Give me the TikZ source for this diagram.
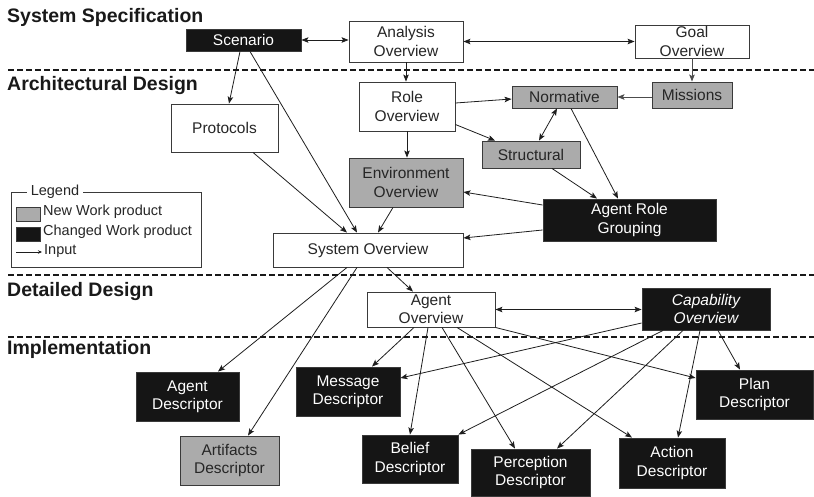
\documentclass[tikz,border=0pt]{standalone}
\usepackage{fontspec}
\setmainfont{Liberation Sans}
\usetikzlibrary{arrows.meta,calc}
\definecolor{newwp}{HTML}{ABABAB}
\definecolor{chgwp}{HTML}{151515}
\definecolor{edgec}{HTML}{1E1E1E}
\definecolor{framec}{HTML}{3A3A3A}

\begin{document}
\begin{tikzpicture}[x=1pt,y=-1pt,
  sz/.style 2 args={minimum width=#1, minimum height=#2},
  wp/.style={draw=framec, line width=0.9pt, inner sep=0pt, align=center,
    font=\fontsize{15.5}{18.3}\selectfont},
  plainwp/.style={wp, fill=white, text=black!85},
  newbox/.style={wp, fill=newwp, text=black!85},
  chgbox/.style={wp, fill=chgwp, text=white},
  tip/.tip={Stealth[length=7pt,width=5.5pt,inset=1.5pt]},
  flow/.style={draw=edgec, line width=0.8pt, -tip},
  both/.style={draw=edgec, line width=0.8pt, tip-tip},
  phase/.style={font=\fontsize{19.5}{22}\bfseries\selectfont, anchor=base west,
    inner sep=0pt, text=black!90},
  sepline/.style={line width=1.6pt, dash pattern=on 6pt off 3pt, draw=black!90},
  legtext/.style={font=\fontsize{14.5}{16}\selectfont, anchor=west, inner sep=0pt, text=black!85}
]
\useasboundingbox (0,0) rectangle (814,496);

% phase headings and separators
\node[phase] (hSpec) at (7,22) {System Specification};
\node[phase] (hArch) at (7,90) {Architectural Design};
\node[phase] (hDet)  at (7,296) {Detailed Design};
\node[phase] (hImpl) at (7,354) {Implementation};
\draw[sepline] (8,70) -- (814,70);
\draw[sepline] (8,275) -- (814,275);
\draw[sepline] (8,337) -- (814,337);

% system specification
\node[chgbox, sz={115pt}{22pt}]   (scen) at (243.5,40)  {Scenario};
\node[plainwp, sz={114pt}{41pt}]  (ana)  at (406,41.5)  {Analysis\\Overview};
\node[plainwp, sz={114pt}{33pt}]  (goal) at (692,41.5)  {Goal\\Overview};

% architectural design
\node[plainwp, sz={96pt}{49pt}]   (role)   at (407,106.5) {Role\\Overview};
\node[newbox, sz={105pt}{22pt}]   (norm)   at (564.5,97)  {Normative};
\node[newbox, sz={80pt}{26pt}]    (miss)   at (692,95)    {Missions};
\node[plainwp, sz={107pt}{48pt}]  (prot)   at (224.5,128) {Protocols};
\node[newbox, sz={98pt}{27pt}]    (struct) at (531,154.5) {Structural};
\node[newbox, sz={114pt}{49pt}]   (env)    at (406,182.5) {Environment\\Overview};
\node[chgbox, sz={173pt}{42pt}]   (arg)    at (629.5,220) {Agent Role\\Grouping};
\node[plainwp, sz={190pt}{34pt}]  (sys)    at (368,250)   {System Overview};

% detailed design
\node[plainwp, sz={128pt}{35pt}]  (agov) at (431,309.5) {Agent\\Overview};
\node[chgbox, sz={128pt}{42pt}]   (cap)  at (706,309)   {\itshape Capability\\\itshape Overview};

% implementation
\node[chgbox, sz={103pt}{49pt}]   (agd)  at (187.5,396.5) {Agent\\Descriptor};
\node[chgbox, sz={104pt}{49pt}]   (msg)  at (348,391.5)   {Message\\Descriptor};
\node[newbox, sz={99pt}{49pt}]    (art)  at (229.5,460.5) {Artifacts\\Descriptor};
\node[chgbox, sz={96pt}{48pt}]    (bel)  at (410,459)     {Belief\\Descriptor};
\node[chgbox, sz={119pt}{47pt}]   (per)  at (530.5,472.5) {Perception\\Descriptor};
\node[chgbox, sz={106pt}{50pt}]   (act)  at (672,463)     {Action\\Descriptor};
\node[chgbox, sz={117pt}{49pt}]   (plan) at (754.5,394.5) {Plan\\Descriptor};

% legend
\node[draw=framec, line width=0.9pt, sz={190pt}{75pt}, inner sep=0pt] (legend) at (106,229.5) {};
\node[fill=white, inner xsep=4pt, inner ysep=0pt, font=\fontsize{14.5}{16}\selectfont, text=black!85] (legtitle) at (55,192) {Legend};
\node[draw=framec, line width=0.8pt, fill=newwp, sz={24pt}{14pt}, inner sep=0pt] (swNew) at (28,214) {};
\node[draw=framec, line width=0.8pt, fill=chgwp, sz={24pt}{14pt}, inner sep=0pt] (swChg) at (28,234) {};
\node[legtext] (lNew) at (43,212) {New Work product};
\node[legtext] (lChg) at (43,232) {Changed Work product};
\coordinate (inA) at (16,252);
\coordinate (inB) at (42,252);
\draw[draw=edgec, line width=0.7pt, -{Stealth[length=4pt,width=3.5pt]}] (inA) -- (inB);
\node[legtext] (lIn) at (44,251) {Input};

% specification links
\draw[both] (scen.east) -- (scen.east -| ana.west);
\draw[both] (ana.east) -- (goal.west);
\draw[flow] (ana.south) -- (ana.south |- role.north);
\draw[flow, draw=black!70, line width=1pt] (goal.south) -- (goal.south |- miss.north);
\draw[flow, draw=black!70, line width=1pt] (miss.west |- norm.east) -- (norm.east);

% architectural links
\draw[flow] ([yshift=3.5pt]role.east) -- ([yshift=-2pt]norm.west);
\draw[flow] ([yshift=-18pt]role.east) -- ([xshift=-36pt]struct.north);
\draw[both] ([xshift=-7.5pt]norm.south) -- ([xshift=8pt]struct.north);
\draw[flow] (role.south) -- (role.south |- env.north);
\draw[flow] ([xshift=21pt]struct.south) -- ([xshift=-32.5pt]arg.north);
\draw[flow] ([xshift=6.5pt]norm.south) -- ([xshift=-11.5pt]arg.north);
\draw[flow] ([yshift=15pt]arg.west) -- ([yshift=-9.5pt]env.east);
\draw[flow] ([yshift=-10pt]arg.west) -- ([yshift=12pt]sys.east);
\draw[flow] ([xshift=-3.5pt]scen.south) -- ([xshift=4.5pt]prot.north);
\draw[flow] ([xshift=6.5pt]scen.south) -- ([xshift=-11pt]sys.north);
\draw[flow] ([xshift=28.5pt]prot.south) -- ([xshift=-21pt]sys.north);
\draw[flow] ([xshift=-13pt]env.south) -- ([xshift=10pt]sys.north);

% system overview outputs
\draw[flow] ([xshift=19pt]sys.south) -- ([xshift=-18pt]agov.north);
\draw[flow] ([xshift=-21pt]sys.south) -- ([xshift=30.5pt]agd.north);
\draw[flow] ([xshift=-11pt]sys.south) -- ([xshift=18.5pt]art.north);

% detailed design links
\draw[both] (agov.east) -- (agov.east -| cap.west);
\draw[flow] ([xshift=-17pt]agov.south) -- ([xshift=24pt]msg.north);
\draw[flow] ([xshift=-3pt]agov.south) -- (bel.north);
\draw[flow] ([xshift=11pt]agov.south) -- ([xshift=-15.5pt]per.north);
\draw[flow] ([xshift=26pt]agov.south) -- ([xshift=-40pt]act.north);
\draw[flow] (agov.south east) -- ([yshift=16.5pt]plan.west);
\draw[flow] ([yshift=-14pt]cap.west) -- ([yshift=13.5pt]msg.east);
\draw[flow] ([xshift=-43pt]cap.south) -- (bel.north east);
\draw[flow] ([xshift=-23pt]cap.south) -- ([xshift=26.5pt]per.north);
\draw[flow] ([xshift=-6pt]cap.south) -- ([xshift=6pt]act.north);
\draw[flow] ([xshift=12pt]cap.south) -- ([xshift=-14.5pt]plan.north);
\end{tikzpicture}
\end{document}
